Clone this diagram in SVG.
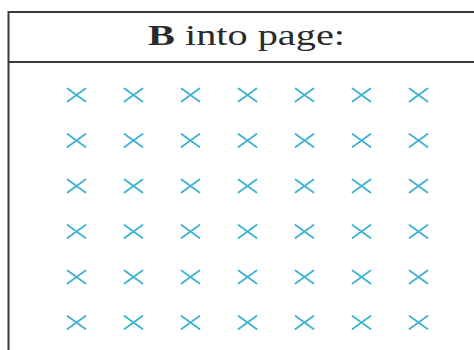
<svg xmlns="http://www.w3.org/2000/svg" width="474" height="350" viewBox="0 0 474 350">
<style>
.frame{fill:none;stroke:#3a3a3a;stroke-width:2}
.x{stroke:#3fb2d2;stroke-width:1.8;stroke-linecap:round;fill:none}
.t{font-family:"Liberation Serif",serif;font-size:30px;fill:#2a2a2a}
</style>
<defs>
<path id="cross" class="x" d="M-9,-6.5 L9,6.5 M-9,6.5 L9,-6.5"/>
</defs>
<rect width="474" height="350" fill="#ffffff"/>
<g id="frame">
<path class="frame" d="M476,12 H8.5 V352"/>
<line class="frame" x1="8.5" y1="62" x2="476" y2="62"/>
</g>
<g id="title">
<text class="t" x="148" y="45" textLength="197" lengthAdjust="spacingAndGlyphs"><tspan font-weight="bold">B</tspan> into page:</text>
</g>
<g id="field">
<g id="row1"><use href="#cross" x="76.5" y="95"/><use href="#cross" x="133.5" y="95"/><use href="#cross" x="190.5" y="95"/><use href="#cross" x="247.5" y="95"/><use href="#cross" x="304.5" y="95"/><use href="#cross" x="361.5" y="95"/><use href="#cross" x="418.5" y="95"/></g>
<g id="row2"><use href="#cross" x="76.5" y="140.5"/><use href="#cross" x="133.5" y="140.5"/><use href="#cross" x="190.5" y="140.5"/><use href="#cross" x="247.5" y="140.5"/><use href="#cross" x="304.5" y="140.5"/><use href="#cross" x="361.5" y="140.5"/><use href="#cross" x="418.5" y="140.5"/></g>
<g id="row3"><use href="#cross" x="76.5" y="186"/><use href="#cross" x="133.5" y="186"/><use href="#cross" x="190.5" y="186"/><use href="#cross" x="247.5" y="186"/><use href="#cross" x="304.5" y="186"/><use href="#cross" x="361.5" y="186"/><use href="#cross" x="418.5" y="186"/></g>
<g id="row4"><use href="#cross" x="76.5" y="231.5"/><use href="#cross" x="133.5" y="231.5"/><use href="#cross" x="190.5" y="231.5"/><use href="#cross" x="247.5" y="231.5"/><use href="#cross" x="304.5" y="231.5"/><use href="#cross" x="361.5" y="231.5"/><use href="#cross" x="418.5" y="231.5"/></g>
<g id="row5"><use href="#cross" x="76.5" y="277"/><use href="#cross" x="133.5" y="277"/><use href="#cross" x="190.5" y="277"/><use href="#cross" x="247.5" y="277"/><use href="#cross" x="304.5" y="277"/><use href="#cross" x="361.5" y="277"/><use href="#cross" x="418.5" y="277"/></g>
<g id="row6"><use href="#cross" x="76.5" y="322.5"/><use href="#cross" x="133.5" y="322.5"/><use href="#cross" x="190.5" y="322.5"/><use href="#cross" x="247.5" y="322.5"/><use href="#cross" x="304.5" y="322.5"/><use href="#cross" x="361.5" y="322.5"/><use href="#cross" x="418.5" y="322.5"/></g>
</g>
</svg>
